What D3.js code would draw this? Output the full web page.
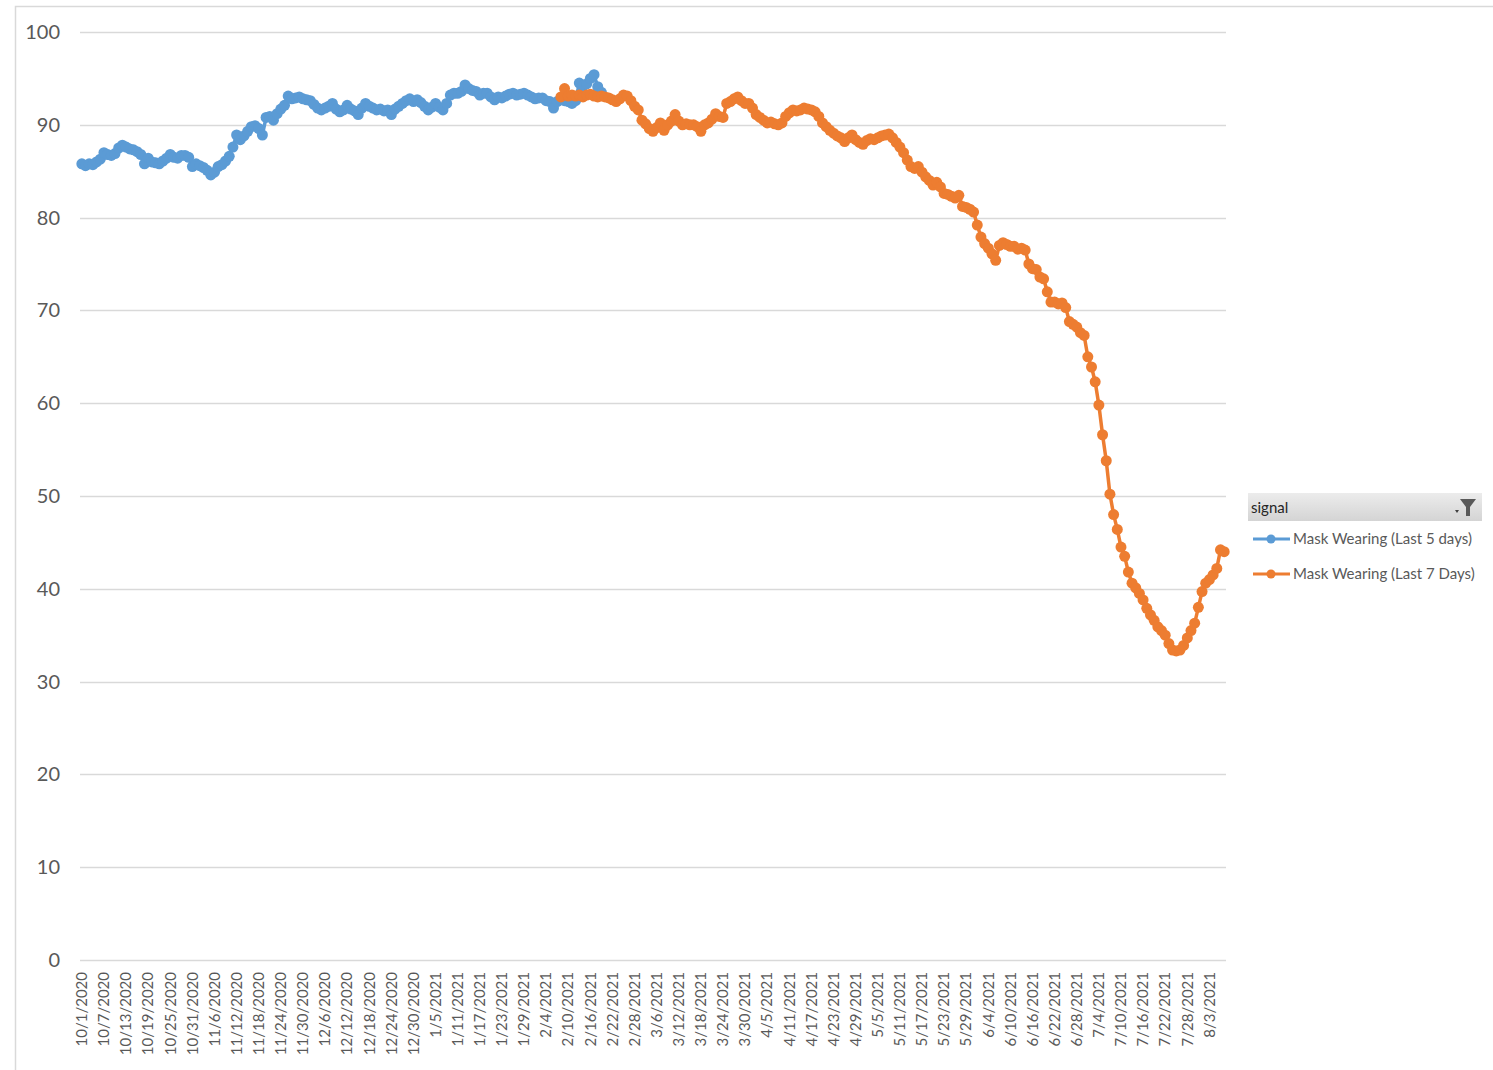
<!DOCTYPE html>
<html>
<head>
<meta charset="utf-8">
<script src="https://cdn.jsdelivr.net/npm/d3@7"></script>
<style>
  body { margin: 0; background: #fff; }
  text { font-family: Lato, "Noto Sans", sans-serif; }
</style>
</head>
<body>
<div id="chart"></div>
<script>
"use strict";

// category axis: one point per day
var first_day = "10/1/2020";
var day_count = 311;
var tick_every = 6;

var y_ticks = [0, 10, 20, 30, 40, 50, 60, 70, 80, 90, 100];

var series_names = ["Mask Wearing (Last 5 days)", "Mask Wearing (Last 7 Days)"];
var series_colors = ["#5B9BD5", "#ED7D31"];
var legend_title = "signal";

// Mask Wearing (Last 5 days), starts 10/1/2020
var blue_start = "10/1/2020";
var blue_values = [
  85.8, 85.6, 85.8, 85.7, 86.0, 86.3, 87.0, 86.8, 86.7, 86.9,
  87.5, 87.8, 87.6, 87.4, 87.3, 87.1, 86.8, 85.8, 86.4, 86.0,
  85.9, 85.8, 86.1, 86.4, 86.8, 86.5, 86.4, 86.7, 86.7, 86.5,
  85.5, 85.8, 85.6, 85.4, 85.1, 84.6, 84.9, 85.5, 85.7, 86.1,
  86.6, 87.6, 88.9, 88.4, 88.8, 89.3, 89.8, 89.9, 89.6, 88.9,
  90.8, 90.9, 90.5, 91.2, 91.7, 92.1, 93.1, 92.8, 92.9, 93.0,
  92.8, 92.7, 92.6, 92.2, 91.8, 91.6, 91.8, 92.0, 92.3, 91.7,
  91.4, 91.6, 92.1, 91.7, 91.5, 91.1, 91.8, 92.3, 92.0, 91.8,
  91.6, 91.7, 91.5, 91.6, 91.1, 91.7, 92.0, 92.3, 92.6, 92.8,
  92.5, 92.7, 92.4, 92.0, 91.6, 91.9, 92.3, 91.9, 91.6, 92.3,
  93.2, 93.4, 93.4, 93.6, 94.3, 93.9, 93.7, 93.6, 93.2, 93.4,
  93.4, 93.0, 92.7, 93.0, 92.9, 93.1, 93.3, 93.4, 93.2, 93.3,
  93.4, 93.2, 93.0, 92.8, 92.9, 92.9, 92.6, 92.5, 91.8, 92.5,
  92.7, 92.6, 92.5, 92.3, 92.6, 94.5, 94.2, 94.4, 95.0, 95.4,
  94.1, 93.5
];

// Mask Wearing (Last 7 Days), starts 2/8/2021
var orange_start = "2/8/2021";
var orange_values = [
  93.0, 93.9, 93.1, 93.2, 93.1, 93.2, 93.0, 93.2, 93.3, 93.1,
  93.0, 93.1, 93.0, 92.9, 92.7, 92.5, 92.8, 93.2, 93.1, 92.6,
  92.0, 91.6, 90.5, 90.1, 89.6, 89.3, 89.7, 90.2, 89.4, 90.0,
  90.4, 91.1, 90.4, 90.0, 90.1, 90.0, 90.0, 89.8, 89.3, 90.0,
  90.2, 90.6, 91.2, 90.9, 90.8, 92.3, 92.5, 92.8, 93.0, 92.6,
  92.3, 92.3, 91.8, 91.1, 90.8, 90.5, 90.2, 90.3, 90.1, 90.0,
  90.2, 90.9, 91.3, 91.6, 91.5, 91.6, 91.8, 91.7, 91.6, 91.4,
  90.9, 90.2, 89.8, 89.4, 89.1, 88.8, 88.6, 88.2, 88.6, 88.9,
  88.4, 88.1, 87.9, 88.3, 88.5, 88.4, 88.6, 88.8, 88.9, 89.0,
  88.6, 88.1, 87.6, 87.0, 86.2, 85.5, 85.3, 85.5, 84.9, 84.4,
  84.0, 83.5, 83.8, 83.3, 82.6, 82.5, 82.3, 82.1, 82.4, 81.2,
  81.1, 80.9, 80.6, 79.2, 77.9, 77.2, 76.7, 76.1, 75.4, 77.0,
  77.3, 77.1, 76.9, 76.9, 76.6, 76.7, 76.5, 75.0, 74.5, 74.4,
  73.6, 73.4, 72.0, 70.9, 70.9, 70.7, 70.8, 70.3, 68.8, 68.5,
  68.2, 67.6, 67.3, 65.0, 63.9, 62.3, 59.8, 56.6, 53.8, 50.2,
  48.0, 46.4, 44.5, 43.5, 41.8, 40.6, 40.1, 39.5, 38.8, 37.9,
  37.2, 36.6, 35.9, 35.5, 35.0, 34.1, 33.4, 33.3, 33.4, 33.9,
  34.7, 35.5, 36.3, 38.0, 39.7, 40.6, 41.0, 41.5, 42.2, 44.2,
  44.0
];

var W = 1493, H = 1070;
var plot_left = 80, plot_right = 1226, plot_top = 32, plot_bottom = 960;

var parse = d3.timeParse("%m/%d/%Y");
var fmt = d3.timeFormat("%-m/%-d/%Y");

var start = parse(first_day);
var categories = d3.timeDay.range(start, d3.timeDay.offset(start, day_count)).map(fmt);

function to_points(start_label, values) {
    var i0 = categories.indexOf(start_label);
    return values.map(function(v, i) { return { cat: categories[i0 + i], value: v }; });
}
var series = [to_points(blue_start, blue_values), to_points(orange_start, orange_values)];

var svg = d3.select("#chart")
    .append("svg")
    .attr("width", W)
    .attr("height", H);

// chart border
svg.append("rect")
    .attr("x", 15.5)
    .attr("y", 6.5)
    .attr("width", W)
    .attr("height", H)
    .attr("fill", "none")
    .attr("stroke", "#d9d9d9")
    .attr("stroke-width", 1.5);

var x = d3.scaleBand()
    .domain(categories)
    .range([plot_left, plot_right])
    .padding(0);

var y = d3.scaleLinear()
    .domain([0, 100])
    .range([plot_bottom, plot_top]);

function cx(c) { return x(c) + x.bandwidth() / 2; }

// gridlines
svg.append("g")
    .selectAll("line")
    .data(y_ticks)
    .enter()
    .append("line")
    .attr("x1", plot_left)
    .attr("x2", plot_right)
    .attr("y1", function(d) { return Math.round(y(d)) + 0.5; })
    .attr("y2", function(d) { return Math.round(y(d)) + 0.5; })
    .attr("stroke", "#d9d9d9")
    .attr("stroke-width", 1.5);

// y labels
var yAxis = d3.axisLeft(y).tickValues(y_ticks).tickSize(0).tickPadding(0);
var gy = svg.append("g")
    .attr("transform", "translate(60,0)")
    .call(yAxis);
gy.select(".domain").remove();
gy.selectAll("text")
    .attr("font-family", "Lato, sans-serif")
    .attr("font-size", "20px")
    .attr("fill", "#595959");

// x labels, every 6th day
var x_ticks = categories.filter(function(d, i) { return i % tick_every === 0; });
var xAxis = d3.axisBottom(x).tickValues(x_ticks).tickSize(0).tickPadding(0);
var gx = svg.append("g")
    .attr("transform", "translate(0," + (plot_bottom + 12) + ")")
    .call(xAxis);
gx.select(".domain").remove();
gx.selectAll("text")
    .attr("font-family", "Lato, sans-serif")
    .attr("font-size", "15px")
    .attr("fill", "#595959")
    .attr("text-anchor", "end")
    .attr("dy", "0.35em")
    .attr("x", 0)
    .attr("y", 0)
    .attr("transform", "rotate(-90)");

// lines + markers
var line = d3.line()
    .x(function(d) { return cx(d.cat); })
    .y(function(d) { return y(d.value); });

series.forEach(function(s, k) {
    svg.append("path")
        .datum(s)
        .attr("fill", "none")
        .attr("stroke", series_colors[k])
        .attr("stroke-width", 3.5)
        .attr("stroke-linejoin", "round")
        .attr("d", line);

    svg.append("g")
        .selectAll("circle")
        .data(s)
        .enter()
        .append("circle")
        .attr("cx", function(d) { return cx(d.cat); })
        .attr("cy", function(d) { return y(d.value); })
        .attr("r", 5.5)
        .attr("fill", series_colors[k]);
});

// legend
var grad = svg.append("defs")
    .append("linearGradient")
    .attr("id", "hdr")
    .attr("x1", 0).attr("y1", 0).attr("x2", 0).attr("y2", 1);
grad.append("stop").attr("offset", "0%").attr("stop-color", "#ececec");
grad.append("stop").attr("offset", "100%").attr("stop-color", "#d4d4d4");

var lg = svg.append("g").attr("transform", "translate(1248,493)");
lg.append("rect")
    .attr("width", 234)
    .attr("height", 28)
    .attr("fill", "url(#hdr)");
lg.append("text")
    .attr("x", 3)
    .attr("y", 20)
    .attr("font-size", "15px")
    .attr("fill", "#262626")
    .text(legend_title);
// dropdown arrow + filter funnel
lg.append("path")
    .attr("d", "M207,17 L211,17 L209,20 Z")
    .attr("fill", "#404040");
lg.append("path")
    .attr("d", "M212,6 L228,6 L222,14 L222,23 L218,23 L218,14 Z")
    .attr("fill", "#595959");

series_names.forEach(function(name, k) {
    var yy = 46 + k * 35;
    lg.append("line")
        .attr("x1", 5)
        .attr("x2", 42)
        .attr("y1", yy)
        .attr("y2", yy)
        .attr("stroke", series_colors[k])
        .attr("stroke-width", 3);
    lg.append("circle")
        .attr("cx", 23)
        .attr("cy", yy)
        .attr("r", 4.5)
        .attr("fill", series_colors[k]);
    lg.append("text")
        .attr("x", 45)
        .attr("y", yy + 5)
        .attr("font-size", "15px")
        .attr("fill", "#595959")
        .text(name);
});
</script>
</body>
</html>
